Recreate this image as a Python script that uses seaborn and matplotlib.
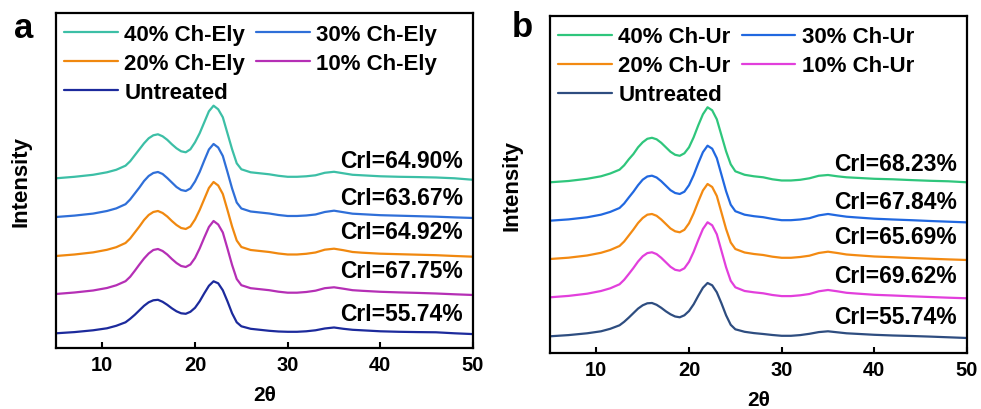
import matplotlib
matplotlib.use("Agg")
import matplotlib.pyplot as plt
import numpy as np
import seaborn as sns

sns.set_theme(style="ticks")
plt.rcParams["font.family"] = ["Liberation Sans", "DejaVu Sans"]
plt.rcParams["font.weight"] = "bold"
plt.rcParams["axes.labelweight"] = "bold"
plt.rcParams["text.color"] = "black"
plt.rcParams["axes.labelcolor"] = "black"
plt.rcParams["xtick.color"] = "black"

# 2theta sampling positions (deg)
two_theta = [5, 7, 9, 10.5, 11.5, 12.5, 13, 13.5, 14, 14.5,
             15, 15.5, 16, 16.5, 17, 17.5, 18, 18.5, 19, 19.5,
             20, 20.5, 21, 21.5, 22, 22.5, 23, 23.5, 24, 24.5,
             25, 26, 27, 28, 29, 30, 31, 32, 33, 34,
             35, 36, 37, 38, 40, 42, 44, 46, 48, 50]

# panel a: intensity above each trace's own baseline (a.u.)
ely_40 = [0, 1.5, 3.5, 6, 8.5, 12.6, 17, 23, 29, 35,
          40, 43, 44, 42, 38.5, 34, 30, 27, 26, 29,
          36, 45, 56, 67, 72.6, 69, 61, 45, 29, 15,
          9, 6, 5, 4, 2.5, 1.5, 1.5, 2, 3, 5.5,
          6.5, 5, 3.5, 3, 2, 1.5, 1.2, 0.8, 0, -1.5]
ely_30 = [0, 1.4, 3.4, 6, 8.6, 12.8, 17.5, 23.5, 29.5, 36,
          41, 44, 45, 43, 39, 34.5, 30, 27, 26, 28.5,
          35.5, 45, 56.5, 67.5, 73, 69.5, 61, 45, 28.5, 14.5,
          8.5, 5.5, 4.5, 3.5, 2, 1, 1, 1.5, 2.5, 5,
          6.3, 4.8, 3.3, 2.8, 1.8, 1.3, 0.8, 0.3, -0.4, -1]
ely_20 = [0, 1.5, 3.6, 6.2, 8.8, 13, 17.5, 23.5, 29.5, 36,
          41, 44, 45, 43, 39.5, 35, 31, 28, 27, 29.5,
          36.5, 46, 57, 68, 74, 70.5, 62, 46, 29.5, 15.5,
          9, 6, 5, 4, 2.5, 1.5, 1.5, 2.2, 3.5, 6.3,
          7.3, 5.8, 4, 3.3, 2.3, 1.8, 1.3, 0.8, 0, -0.7]
ely_10 = [0, 1.5, 3.5, 6, 8.7, 12.8, 17.2, 23.2, 29.5, 35.5,
          40.5, 44, 45, 43, 39.5, 35, 31, 28, 27, 29.5,
          36, 45.5, 56.5, 67, 73, 69.5, 61.5, 45.5, 29, 15,
          8.8, 5.8, 4.8, 3.8, 2.3, 1.3, 1.3, 2, 3.3, 5.8,
          6.7, 5.3, 3.8, 3.2, 2.2, 1.6, 1.1, 0.5, -0.3, -1]
ely_untreated = [0, 1.2, 3, 5, 7.5, 11, 14.5, 18.5, 23, 27.5,
                 31, 33, 33.5, 31.5, 28.5, 25, 22, 20, 19.5, 21.5,
                 25.5, 32, 40, 47.5, 52, 50, 43, 32, 20, 11,
                 7, 4.5, 3.5, 2.5, 1.8, 1.5, 1.5, 2, 3, 4.8,
                 5.8, 4.5, 3.5, 3, 2, 1.5, 1.2, 1, 0, -0.8]

# panel b
ur_40 = [0, 1.3, 3.5, 6, 8.8, 12.6, 17, 23, 28.3, 35,
         40, 43.5, 44.5, 43, 39.5, 35, 30.5, 27.5, 26.5, 29,
         35, 45, 57, 68, 75, 72, 63, 47, 31, 18,
         11, 7.5, 6, 5, 3, 1.8, 1.8, 2.5, 4, 6.5,
         7.3, 6, 5, 4.5, 3.5, 3, 2.2, 1.5, 1, 0]
ur_30 = [0, 1.3, 3.4, 6, 8.8, 12.7, 17.2, 23.2, 29, 35.5,
         41, 44.2, 45, 43.2, 39.5, 35, 30.5, 27.7, 26.7, 29,
         35.5, 45.5, 57.5, 68.5, 75, 72, 62.5, 46, 29.5, 16,
         9.5, 6, 4.5, 3.5, 1.8, 0.5, 0.5, 1.2, 2.5, 5.3,
         6.7, 5.3, 4, 3.3, 2, 1.2, 0.5, -0.3, -1, -1.7]
ur_20 = [0, 1.3, 3.5, 6.2, 9, 13, 17.5, 23.5, 29.5, 36,
         41, 44.3, 45, 43.2, 39.5, 35, 30.5, 27.7, 26.7, 29.2,
         35.7, 45.7, 57.5, 68.5, 75, 72, 63, 46.5, 30, 16.5,
         10, 6.5, 5, 4, 2.3, 1.2, 1.2, 2, 3.3, 6,
         7.3, 6, 4.5, 3.8, 2.5, 1.8, 1, 0.3, -0.4, -1]
ur_10 = [0, 1.4, 3.6, 6.3, 9, 13, 17.5, 23.3, 29.3, 35.8,
         41, 44.2, 45, 43.2, 39.5, 35, 30.5, 27.5, 26.6, 29,
         35.5, 45.5, 57.3, 68.3, 75, 72, 63, 46.5, 30, 16.5,
         10, 6.3, 5, 4, 2.3, 1.2, 1.2, 2, 3.3, 6,
         7.3, 6, 4.5, 3.8, 2.5, 1.8, 1, 0.3, -0.4, -1]
ur_untreated = [0, 1.2, 3, 5, 7.5, 11, 14.5, 18.7, 23.2, 27.7,
                31, 33, 33.3, 31.5, 28.5, 25, 22, 19.8, 19, 21,
                25.3, 32, 40.5, 48.5, 53.3, 51, 44, 33, 21, 11.5,
                7, 4.5, 3.2, 2.3, 1.3, 0.5, 0.5, 1.2, 2.5, 4.2,
                5, 4, 3, 2.5, 1.5, 0.8, 0.3, -0.3, -1, -1.7]

ely_labels = ["40% Ch-Ely", "30% Ch-Ely", "20% Ch-Ely", "10% Ch-Ely", "Untreated"]
ur_labels = ["40% Ch-Ur", "30% Ch-Ur", "20% Ch-Ur", "10% Ch-Ur", "Untreated"]
ely_crl = ["CrI=64.90%", "CrI=63.67%", "CrI=64.92%", "CrI=67.75%", "CrI=55.74%"]
ur_crl = ["CrI=68.23%", "CrI=67.84%", "CrI=65.69%", "CrI=69.62%", "CrI=55.74%"]

ely_colors = ["#3cbfa6", "#2f6fd8", "#f0880f", "#b52fb5", "#1c2a9c"]
ur_colors = ["#2fc67c", "#2168e0", "#f38a12", "#e23fdc", "#2e4d80"]

# vertical stacking offsets and label heights (plot units)
ely_offsets = [169.7, 131, 92, 54, 14.7]
ely_text_y = [187, 150, 116, 77, 34]
ur_offsets = [170.7, 132.3, 94, 55.7, 16.7]
ur_text_y = [189, 151, 116, 77, 36]


def draw_panel(ax, curves, labels, colors, offsets, crl, text_y, ytop, ylabel_x):
    handles = []
    for vals, lab, col, off in zip(curves, labels, colors, offsets):
        sns.lineplot(x=two_theta, y=np.asarray(vals) + off, ax=ax, color=col,
                     linewidth=1.6)
        line = ax.lines[-1]
        line.set_label(lab)
        handles.append(line)
    for txt, ty in zip(crl, text_y):
        ax.text(48.9, ty, txt, ha="right", va="center", fontsize=16.5, fontweight="bold")

    order = [0, 2, 4, 1, 3]
    ax.legend([handles[i] for i in order], [labels[i] for i in order], ncol=2,
              loc="upper left", bbox_to_anchor=(0.02, 0.968), frameon=False,
              fontsize=16, handlelength=2.4, handletextpad=0.3,
              columnspacing=0.5, labelspacing=0.36, borderaxespad=0, borderpad=0)

    ax.set_xlim(5, 50)
    ax.set_ylim(0, ytop)
    ax.set_xticks([10, 20, 30, 40, 50])
    ax.set_yticks([])
    ax.tick_params(axis="x", direction="in", length=4, width=1.5, labelsize=14.5,
                   pad=5, colors="black")
    for lbl in ax.get_xticklabels():
        lbl.set_fontweight("bold")
    for sp in ax.spines.values():
        sp.set_visible(True)
        sp.set_color("black")
        sp.set_linewidth(1.6)
    ax.set_xlabel("2θ", fontsize=15, fontweight="bold", labelpad=8, color="black")
    ax.set_ylabel("Intensity", fontsize=16, fontweight="bold", color="black")
    ax.yaxis.set_label_coords(ylabel_x, 0.5)


fig = plt.figure(figsize=(9.81, 4.10), dpi=100)
ax_a = fig.add_axes([0.0571, 0.1488, 0.4251, 0.8171])
ax_b = fig.add_axes([0.5607, 0.1366, 0.4250, 0.8227])

draw_panel(ax_a, [ely_40, ely_30, ely_20, ely_10, ely_untreated], ely_labels,
           ely_colors, ely_offsets, ely_crl, ely_text_y, 335, -0.058)
draw_panel(ax_b, [ur_40, ur_30, ur_20, ur_10, ur_untreated], ur_labels,
           ur_colors, ur_offsets, ur_crl, ur_text_y, 337.3, -0.065)

fig.text(0.0245, 0.907, "a", ha="center", va="baseline", fontsize=25, fontweight="bold")
fig.text(0.532, 0.91, "b", ha="center", va="baseline", fontsize=25, fontweight="bold")

fig.savefig("out.png", dpi=100)
